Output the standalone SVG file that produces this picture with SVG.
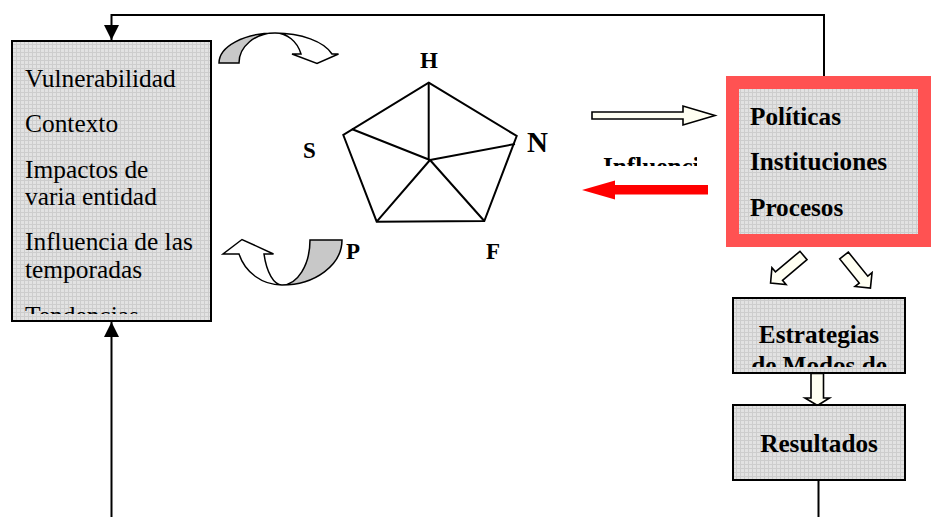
<svg xmlns="http://www.w3.org/2000/svg" width="931" height="517" viewBox="0 0 931 517">
<style>
.t{font-family:"Liberation Serif","Times New Roman",serif;font-size:25.4px;fill:#000}
.b{font-family:"Liberation Serif","Times New Roman",serif;font-size:25.2px;font-weight:bold;fill:#000}
.lbl{font-family:"Liberation Serif","Times New Roman",serif;font-size:23px;font-weight:bold;fill:#000}
.box{fill:url(#grid);stroke:#000;stroke-width:2}
.ln{fill:none;stroke:#000;stroke-width:2}
.hollow{fill:#fffff2;stroke:#000;stroke-width:1.6;stroke-linejoin:miter}
.curveG{fill:#c8c8c8;stroke:#000;stroke-width:1.5}
.curveW{fill:#fff;stroke:#000;stroke-width:1.5}
</style>
<defs>
<pattern id="grid" width="4" height="4" patternUnits="userSpaceOnUse">
<rect width="4" height="4" fill="#e2e2e2"/>
<path d="M0,0.5H4M0.5,0V4" stroke="#cdcdcd" stroke-width="1"/>
</pattern>
<marker id="ah" viewBox="0 0 10 10" refX="10" refY="5" markerWidth="15" markerHeight="15" markerUnits="userSpaceOnUse" orient="auto">
<path d="M0,0L10,5L0,10Z" fill="#000"/>
</marker>
<clipPath id="clipL"><rect x="12" y="41" width="199" height="273"/></clipPath>
<clipPath id="clipInf"><rect x="590" y="150" width="107" height="16"/></clipPath>
<clipPath id="clipE"><rect x="733" y="298" width="172" height="69"/></clipPath>
</defs>

<g id="connectors">
<path class="ln" d="M824,80V15H111.5V40" marker-end="url(#ah)"/>
<path class="ln" d="M111.5,517V322" marker-end="url(#ah)"/>
<path class="ln" d="M818.5,480V517"/>
<path class="hollow" d="M592,112H683V106L715,115.5L683,125V119H592Z"/>
<path d="M708,185V194.5H615V199.5L582,190L615,180.5V185Z" fill="#ff0000"/>
<polygon class="hollow" points="0,-5.5 32,-5.5 32,-11 43,0 32,11 32,5.5 0,5.5" transform="translate(803.5,255.5) rotate(140)"/>
<polygon class="hollow" points="0,-5.5 31,-5.5 31,-11 42,0 31,11 31,5.5 0,5.5" transform="translate(844,255.5) rotate(51)"/>
<path class="hollow" d="M811,373.5V398H805L817.5,405.5L829.5,398H823.5V373.5Z"/>
<path class="curveG" d="M219,63A56,30 0 0 1 275,33A36,30 0 0 0 239,63Z"/>
<path class="curveW" d="M275,33A60,30 0 0 1 332,54L338.5,54L317,63.5L292,54L301,54A27,30 0 0 0 275,33Z"/>
<path class="curveG" d="M342,240A60,45 0 0 1 282,285A28,45 0 0 0 310,240Z"/>
<path class="curveW" d="M282,285A45,45 0 0 1 239,254L223,254L242,239.5L273.5,254L264,254A19,45 0 0 0 282,285Z"/>
</g>

<g id="context">
<rect class="box" x="12" y="41" width="199" height="280"/>
<g clip-path="url(#clipL)">
<text class="t" x="25" y="87">Vulnerabilidad</text>
<text class="t" x="25" y="132">Contexto</text>
<text class="t" x="25" y="178">Impactos de</text>
<text class="t" x="25" y="205">varia entidad</text>
<text class="t" x="25" y="250">Influencia de las</text>
<text class="t" x="25" y="278">temporadas</text>
<text class="t" x="25" y="324">Tendencias</text>
</g>
</g>

<g id="pentagon">
<polygon class="ln" points="428.7,82.7 516.7,136 484.3,221 376.7,221.7 343.3,135"/>
<path class="ln" d="M428.7,82.7V160M430,160L351.7,129M430,160L515,144M430,160L376.7,221.7M430,160L484.3,221"/>
<text class="lbl" x="429" y="68" text-anchor="middle">H</text>
<text class="lbl" x="303" y="158">S</text>
<text class="lbl" x="527" y="152" style="font-size:29px">N</text>
<text class="lbl" x="346" y="259">P</text>
<text class="lbl" x="486" y="259">F</text>
</g>

<g id="influencia">
<text class="b" x="603" y="175" clip-path="url(#clipInf)">Influencias</text>
</g>

<g id="politicas">
<rect x="732.5" y="82.5" width="192" height="158" fill="url(#grid)" stroke="#ff5252" stroke-width="13"/>
<text class="b" x="750" y="125">Políticas</text>
<text class="b" x="750" y="170">Instituciones</text>
<text class="b" x="750" y="216">Procesos</text>
</g>

<g id="estrategias">
<rect class="box" x="733" y="298" width="172" height="75"/>
<g clip-path="url(#clipE)">
<text class="b" x="819" y="343" text-anchor="middle">Estrategias</text>
<text class="b" x="819" y="374" text-anchor="middle">de Modos de</text>
</g>
</g>

<g id="resultados">
<rect class="box" x="733" y="405" width="172" height="75"/>
<text class="b" x="819" y="452" text-anchor="middle">Resultados</text>
</g>
</svg>
